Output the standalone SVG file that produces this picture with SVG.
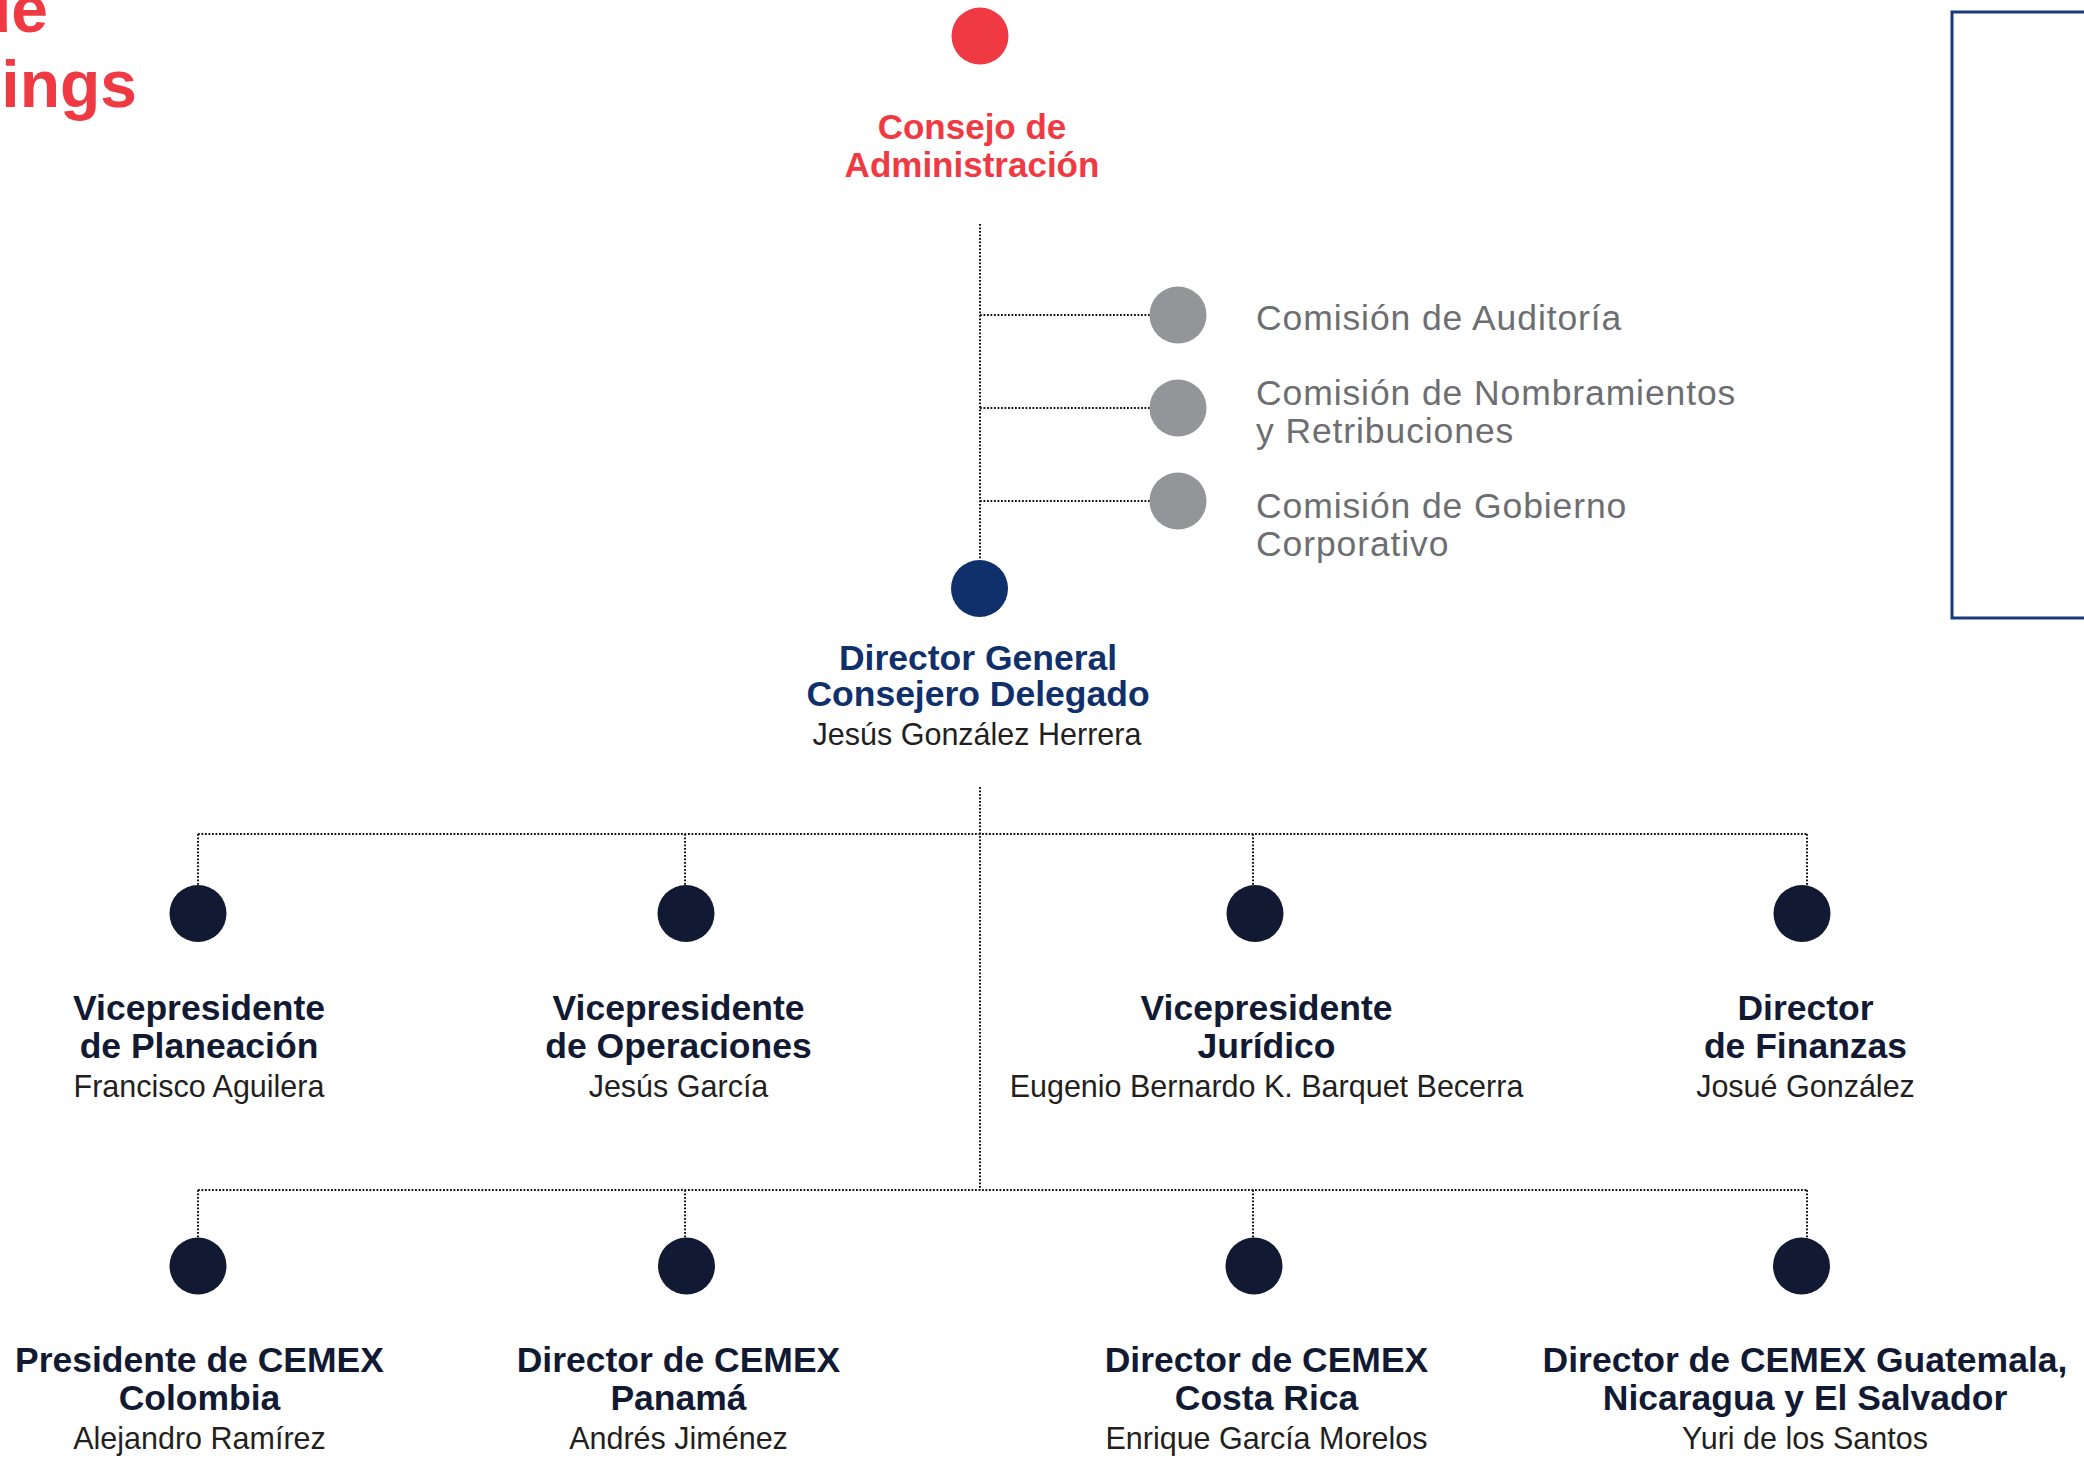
<svg xmlns="http://www.w3.org/2000/svg" width="2084" height="1463" viewBox="0 0 2084 1463">
<style>
  text { font-family: "Liberation Sans", Arial, sans-serif; }
  .title-red { fill: #EF3A43; font-weight: bold; font-size: 35px; text-anchor: middle; }
  .big-red { fill: #EF3A43; font-weight: bold; font-size: 66px; text-anchor: end; }
  .title-navy { fill: #10306B; font-weight: bold; font-size: 35.5px; text-anchor: middle; }
  .title { fill: #121A33; font-weight: bold; font-size: 35.5px; text-anchor: middle; }
  .name { fill: #231F20; font-size: 30.5px; text-anchor: middle; }
  .comm { fill: #6D6E71; font-size: 35.5px; letter-spacing: 0.9px; }
  .dot { stroke: #111111; stroke-width: 2; stroke-dasharray: 1.8 1.7; fill: none; }
  .n-dark { fill: #121A33; }
  .n-gray { fill: #939598; }
</style>

<text class="big-red" x="48" y="32">de</text>
<text class="big-red" x="137" y="107">ings</text>

<rect x="1952" y="12" width="200" height="606" fill="none" stroke="#1B3A7A" stroke-width="3"/>

<g id="connectors">
  <line class="dot" x1="980" y1="224" x2="980" y2="560"/>
  <line class="dot" x1="980" y1="315" x2="1150" y2="315"/>
  <line class="dot" x1="980" y1="408" x2="1150" y2="408"/>
  <line class="dot" x1="980" y1="501" x2="1150" y2="501"/>
  <line class="dot" x1="980" y1="787" x2="980" y2="1190"/>
  <line class="dot" x1="198" y1="834" x2="1807" y2="834"/>
  <line class="dot" x1="198" y1="834" x2="198" y2="885"/>
  <line class="dot" x1="685" y1="834" x2="685" y2="885"/>
  <line class="dot" x1="1253" y1="834" x2="1253" y2="885"/>
  <line class="dot" x1="1807" y1="834" x2="1807" y2="885"/>
  <line class="dot" x1="198" y1="1190" x2="1807" y2="1190"/>
  <line class="dot" x1="198" y1="1190" x2="198" y2="1238"/>
  <line class="dot" x1="685" y1="1190" x2="685" y2="1238"/>
  <line class="dot" x1="1253" y1="1190" x2="1253" y2="1238"/>
  <line class="dot" x1="1807" y1="1190" x2="1807" y2="1238"/>
</g>

<g id="consejo">
  <circle cx="980" cy="36" r="28.5" fill="#EF3A43"/>
  <text class="title-red" x="972" y="139">Consejo de</text>
  <text class="title-red" x="972" y="177">Administración</text>
</g>

<g id="comision-auditoria">
  <circle class="n-gray" cx="1178" cy="315" r="28.5"/>
  <text class="comm" x="1256" y="330">Comisión de Auditoría</text>
</g>
<g id="comision-nombramientos">
  <circle class="n-gray" cx="1178" cy="408" r="28.5"/>
  <text class="comm" x="1256" y="405">Comisión de Nombramientos</text>
  <text class="comm" x="1256" y="443">y Retribuciones</text>
</g>
<g id="comision-gobierno">
  <circle class="n-gray" cx="1178" cy="501" r="28.5"/>
  <text class="comm" x="1256" y="518">Comisión de Gobierno</text>
  <text class="comm" x="1256" y="556">Corporativo</text>
</g>

<g id="director-general">
  <circle cx="979.5" cy="588.5" r="28.5" fill="#10306B"/>
  <text class="title-navy" x="978" y="670">Director General</text>
  <text class="title-navy" x="978" y="706">Consejero Delegado</text>
  <text class="name" x="977" y="745">Jesús González Herrera</text>
</g>

<g id="vp-planeacion">
  <circle class="n-dark" cx="198" cy="913.5" r="28.5"/>
  <text class="title" x="199" y="1020">Vicepresidente</text>
  <text class="title" x="199" y="1058">de Planeación</text>
  <text class="name" x="199" y="1097">Francisco Aguilera</text>
</g>
<g id="vp-operaciones">
  <circle class="n-dark" cx="686" cy="913.5" r="28.5"/>
  <text class="title" x="678.5" y="1020">Vicepresidente</text>
  <text class="title" x="678.5" y="1058">de Operaciones</text>
  <text class="name" x="678.5" y="1097">Jesús García</text>
</g>
<g id="vp-juridico">
  <circle class="n-dark" cx="1255" cy="913.5" r="28.5"/>
  <text class="title" x="1266.5" y="1020">Vicepresidente</text>
  <text class="title" x="1266.5" y="1058">Jurídico</text>
  <text class="name" x="1266.5" y="1097">Eugenio Bernardo K. Barquet Becerra</text>
</g>
<g id="director-finanzas">
  <circle class="n-dark" cx="1802" cy="913.5" r="28.5"/>
  <text class="title" x="1805.5" y="1020">Director</text>
  <text class="title" x="1805.5" y="1058">de Finanzas</text>
  <text class="name" x="1805.5" y="1097">Josué González</text>
</g>

<g id="cemex-colombia">
  <circle class="n-dark" cx="198" cy="1266" r="28.5"/>
  <text class="title" x="199.5" y="1372">Presidente de CEMEX</text>
  <text class="title" x="199.5" y="1410">Colombia</text>
  <text class="name" x="199.5" y="1449">Alejandro Ramírez</text>
</g>
<g id="cemex-panama">
  <circle class="n-dark" cx="686.5" cy="1266" r="28.5"/>
  <text class="title" x="678.5" y="1372">Director de CEMEX</text>
  <text class="title" x="678.5" y="1410">Panamá</text>
  <text class="name" x="678.5" y="1449">Andrés Jiménez</text>
</g>
<g id="cemex-costa-rica">
  <circle class="n-dark" cx="1254" cy="1266" r="28.5"/>
  <text class="title" x="1266.5" y="1372">Director de CEMEX</text>
  <text class="title" x="1266.5" y="1410">Costa Rica</text>
  <text class="name" x="1266.5" y="1449">Enrique García Morelos</text>
</g>
<g id="cemex-guatemala">
  <circle class="n-dark" cx="1801.5" cy="1266" r="28.5"/>
  <text class="title" x="1805" y="1372">Director de CEMEX Guatemala,</text>
  <text class="title" x="1805" y="1410">Nicaragua y El Salvador</text>
  <text class="name" x="1805" y="1449">Yuri de los Santos</text>
</g>
</svg>
